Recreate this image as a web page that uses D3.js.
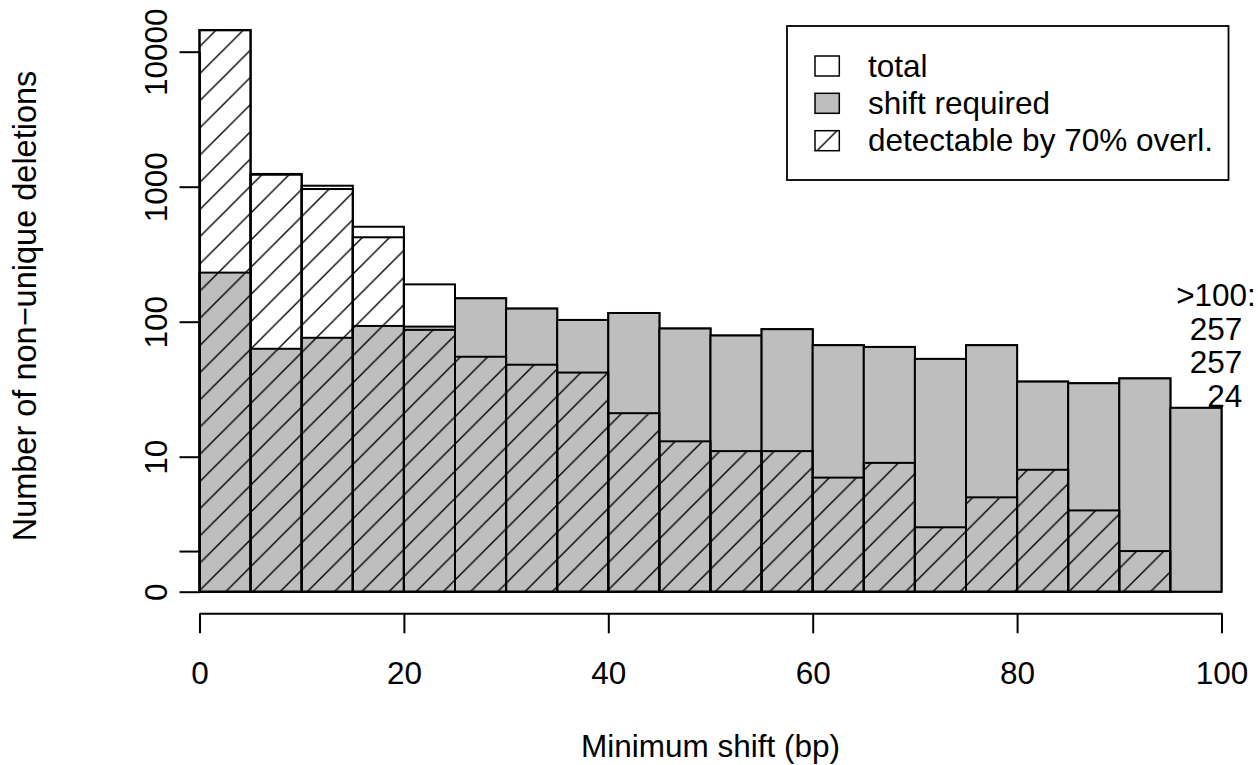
<!DOCTYPE html>
<html>
<head>
<meta charset="utf-8">
<script src="https://cdn.jsdelivr.net/npm/d3@7"></script>
<style>
  html, body { margin: 0; padding: 0; background: #ffffff; }
  svg { display: block; }
  text { font-family: "Liberation Sans", Arial, Helvetica, sans-serif; fill: #000; }
</style>
</head>
<body>
<script>
// ---- data ----
const binStarts = [0,5,10,15,20,25,30,35,40,45,50,55,60,65,70,75,80,85,90,95];
const binWidth = 5;
const totalCounts  = [14480, 1242, 1016, 504, 188, 148, 124, 102, 115, 88, 78, 87, 66, 64, 52, 66, 35, 34, 37, 22];
const shiftCounts  = [230, 62, 75, 92, 91, 148, 124, 102, 115, 88, 78, 87, 66, 64, 52, 66, 35, 34, 37, 22];
const detectCounts = [14400, 1225, 960, 421, 86, 54, 47, 41, 20, 12, 10, 10, 6, 8, 2, 4, 7, 3, 1, 0];
const xTicks = [0, 20, 40, 60, 80, 100];
const yTickAt = [1, 2, 10, 100, 1000, 10000];
const yTickLabels = ["0", "", "10", "100", "1000", "10000"];
const legendLabels = ["total", "shift required", "detectable by 70% overl."];
const overflowLines = [">100:", "257", "257", "  24"];
const xTitle = "Minimum shift (bp)";
const yTitle = "Number of non\u2212unique deletions";

// ---- layout ----
const W = 1258, H = 765;
const FS = 31.5;
const x = d3.scaleLinear().domain([0, 100]).range([199.5, 1221.5]);
const y = d3.scaleLog().domain([1, 10000]).range([591.7, 51.7]);
const yv = v => y(v + 1);
const HATCH = 27.2;

const svg = d3.select("body").append("svg").attr("width", W).attr("height", H);
svg.append("rect").attr("width", W).attr("height", H).attr("fill", "#fff");

const defs = svg.append("defs");
function makeHatch(id, offset) {
  const p = defs.append("pattern").attr("id", id)
    .attr("patternUnits", "userSpaceOnUse")
    .attr("width", HATCH).attr("height", HATCH)
    .attr("x", ((offset % HATCH) + HATCH) % HATCH).attr("y", 0);
  const s = HATCH;
  [[0, s, s, 0], [-2, 2, 2, -2], [s - 2, s + 2, s + 2, s - 2]].forEach(c => {
    p.append("line").attr("x1", c[0]).attr("y1", c[1]).attr("x2", c[2]).attr("y2", c[3])
      .attr("stroke", "#000").attr("stroke-width", 1.4);
  });
}
makeHatch("hatch", 790.2);

const bins = binStarts.map((b, i) => ({
  x0: b, x1: b + binWidth,
  total: totalCounts[i], shift: shiftCounts[i], detect: detectCounts[i]
}));

const g = svg.append("g");
// total (white)
g.selectAll("rect.total").data(bins).join("rect").attr("class", "total")
  .attr("x", d => x(d.x0)).attr("width", d => x(d.x1) - x(d.x0))
  .attr("y", d => yv(d.total)).attr("height", d => yv(0) - yv(d.total))
  .attr("fill", "#fff").attr("stroke", "#000").attr("stroke-width", 2);
// shift required (gray)
g.selectAll("rect.shift").data(bins).join("rect").attr("class", "shift")
  .attr("x", d => x(d.x0)).attr("width", d => x(d.x1) - x(d.x0))
  .attr("y", d => yv(d.shift)).attr("height", d => yv(0) - yv(d.shift))
  .attr("fill", "#bebebe").attr("stroke", "#000").attr("stroke-width", 2);
// detectable (hatched)
g.selectAll("rect.detect").data(bins).join("rect").attr("class", "detect")
  .attr("x", d => x(d.x0)).attr("width", d => x(d.x1) - x(d.x0))
  .attr("y", d => yv(d.detect)).attr("height", d => yv(0) - yv(d.detect))
  .attr("fill", "url(#hatch)").attr("stroke", "#000").attr("stroke-width", 2);

// ---- axes ----
const xAxis = d3.axisBottom(x).tickValues(xTicks).tickSize(20).tickSizeOuter(0).tickFormat(d3.format("d"));
const gx = svg.append("g").attr("transform", "translate(0,613.3)").call(xAxis);
gx.select(".domain").attr("stroke", "#000").attr("stroke-width", 2);
gx.selectAll(".tick line").attr("stroke", "#000").attr("stroke-width", 2);
gx.selectAll(".tick text").attr("y", 70.5).attr("dy", null)
  .attr("font-size", FS).attr("font-family", null);

const yAxis = d3.axisLeft(y).tickValues(yTickAt).tickSize(20).tickSizeOuter(0)
  .tickFormat((d, i) => yTickLabels[i]);
const gy = svg.append("g").attr("transform", "translate(199.5,0)").call(yAxis);
gy.select(".domain").attr("stroke", "#000").attr("stroke-width", 2);
gy.selectAll(".tick line").attr("stroke", "#000").attr("stroke-width", 2);
gy.selectAll(".tick text")
  .attr("x", 0).attr("y", -32.8).attr("dy", null)
  .attr("transform", "rotate(-90)")
  .attr("text-anchor", "middle")
  .attr("font-size", FS).attr("font-family", null);
svg.selectAll(".tick text").style("fill", "#000");

// ---- titles ----
svg.append("text").attr("x", 710.5).attr("y", 757).attr("text-anchor", "middle")
  .attr("font-size", FS).text(xTitle);
svg.append("text").attr("transform", "translate(35.5,306) rotate(-90)")
  .attr("text-anchor", "middle").attr("font-size", 32.5).text(yTitle);

// ---- overflow note ----
const note = svg.append("text").attr("text-anchor", "middle").attr("font-size", FS)
  .style("white-space", "pre");
overflowLines.forEach((t, i) => {
  note.append("tspan").attr("x", 1216).attr("y", 306 + i * 33.7).text(t);
});

// ---- legend ----
const lg = svg.append("g");
lg.append("rect").attr("x", 787).attr("y", 26).attr("width", 441.5).attr("height", 154)
  .attr("fill", "#fff").attr("stroke", "#000").attr("stroke-width", 1.8);
const legendFills = ["#fff", "#bebebe", "url(#hatchLegend)"];
const rowY = [66, 103.3, 140.7];
makeHatch("hatchLegend", 827 + 140.7);
legendLabels.forEach((lab, i) => {
  lg.append("rect").attr("x", 815).attr("y", rowY[i] - 10).attr("width", 24.3).attr("height", 20)
    .attr("fill", legendFills[i]).attr("stroke", "#000").attr("stroke-width", 1.5);
  lg.append("text").attr("x", 868).attr("y", rowY[i] + 10.5).attr("font-size", FS).text(lab);
});
</script>
</body>
</html>
